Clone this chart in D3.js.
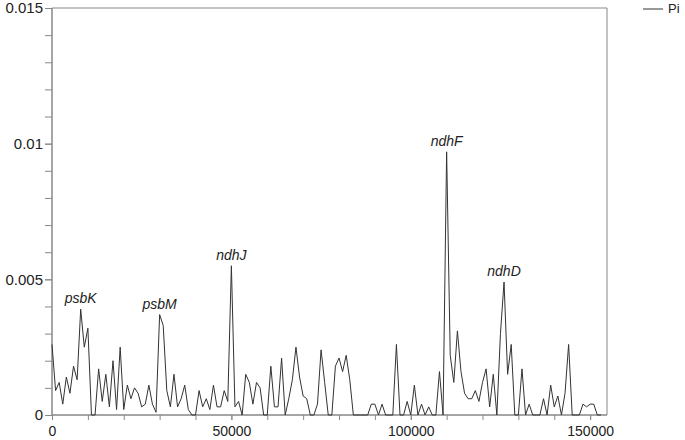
<!DOCTYPE html>
<html><head><meta charset="utf-8">
<script src="https://cdn.jsdelivr.net/npm/d3@7"></script>
<style>body{margin:0;background:#fff;} text{font-family:"Liberation Sans",Arial,sans-serif;}</style>
</head><body>
<svg id="c" width="685" height="440"></svg>
<script>
"use strict";

// window start positions (bp), one value per 1000 bp
const positions = d3.range(0, 154000, 1000);
// Pi values x 1e-3
const piValues = [
  2.6,0.9,1.2,0.4,1.4,0.8,1.8,1.3,3.9,2.5, 3.2,0,0,1.7,0.5,1.5,0.3,2.0,0.2,2.5,
  0.2,1.1,0.6,1.0,0.8,0.3,0.4,1.1,0.4,0.1, 3.7,3.3,0.9,0.3,1.5,0.3,0.6,1.1,0.2,0,
  0,0.9,0.3,0.6,0.2,1.1,0.3,0.3,0.9,0.5, 5.5,0.3,0.5,0,1.5,1.2,0.4,1.2,1.0,0,
  0,1.8,0.3,0.3,2.1,0,0.6,1.3,2.5,1.4, 0.7,0.6,0,0,0.4,2.4,1.2,0,0,1.8,
  2.1,1.6,2.2,1.3,0,0,0,0,0,0.4, 0.4,0,0.4,0,0,0,2.6,0,0,0.5,
  0,1.1,0,0.4,0,0.3,0,0,1.6,0, 9.7,2.2,1.2,3.1,1.6,0.8,0.6,0.6,0.9,0.5,
  1.2,1.7,0.3,1.5,0,3.0,4.9,1.5,2.6,0, 0,1.7,0,0.4,0,0,0,0.6,0,1.1,
  0.3,0.7,0,0.8,2.6,0,0,0,0.4,0.3, 0.4,0.4,0,0
];
const geneLabels = [
  {name: "psbK", pos: 8000},
  {name: "psbM", pos: 30000},
  {name: "ndhJ", pos: 50000},
  {name: "ndhF", pos: 110000},
  {name: "ndhD", pos: 126000}
];
const xTickValues = [0, 50000, 100000, 150000];
const yTickValues = [0, 0.005, 0.01, 0.015];
const seriesName = "Pi";

const data = positions.map((p, i) => ({x: p, y: piValues[i] / 1000}));

const svg = d3.select("#c");
const mLeft = 52, mRight = 607, mTop = 8, mBottom = 415;
const x = d3.scaleLinear().domain([0, 154700]).range([mLeft, mRight]);
const y = d3.scaleLinear().domain([0, 0.015]).range([mBottom, mTop]);
const axisColor = "#888";

// frame top / right
svg.append("path")
  .attr("d", `M${mLeft},${mTop}H${mRight}V${mBottom}`)
  .attr("fill", "none").attr("stroke", axisColor);

// x axis
const gx = svg.append("g").attr("transform", `translate(0,${mBottom})`);
gx.append("g").call(d3.axisBottom(x).tickValues(d3.range(0, 154701, 10000)).tickSize(5).tickFormat(""));
gx.append("g").call(d3.axisBottom(x).tickValues(xTickValues).tickSize(5).tickFormat(d3.format("d")));
gx.selectAll("path, line").attr("stroke", axisColor);
gx.selectAll(".domain").attr("d", `M${mLeft},0H${mRight}`);
gx.selectAll("text").attr("fill", "#222").attr("font-size", 14).attr("dy", "0.95em");

// y axis
const gy = svg.append("g").attr("transform", `translate(${mLeft},0)`);
gy.append("g").call(d3.axisLeft(y).ticks(15).tickSize(7).tickFormat(""));
gy.append("g").call(d3.axisLeft(y).tickValues(yTickValues).tickSize(7).tickFormat(d => d === 0 ? "0" : d3.format("")(d)));
gy.selectAll("path, line").attr("stroke", axisColor);
gy.selectAll(".domain").attr("d", `M0,${mBottom}V${mTop}`);
gy.selectAll("text").attr("fill", "#222").attr("font-size", 15).attr("x", -9);

// series line
svg.append("path")
  .datum(data)
  .attr("fill", "none")
  .attr("stroke", "#333")
  .attr("stroke-width", 1)
  .attr("d", d3.line().x(d => x(d.x)).y(d => y(d.y)));

// gene labels
svg.selectAll("text.gene")
  .data(geneLabels)
  .join("text")
  .attr("class", "gene")
  .attr("x", d => x(d.pos))
  .attr("y", d => y(data.find(e => e.x === d.pos).y) - 6)
  .attr("text-anchor", "middle")
  .attr("font-size", 14)
  .attr("font-style", "italic")
  .attr("fill", "#222")
  .text(d => d.name);

// legend
svg.append("line").attr("x1", 643).attr("x2", 663).attr("y1", 9).attr("y2", 9)
  .attr("stroke", "#333");
svg.append("text").attr("x", 668).attr("y", 13).attr("font-size", 13)
  .attr("fill", "#222").text(seriesName);
</script>
</body></html>
